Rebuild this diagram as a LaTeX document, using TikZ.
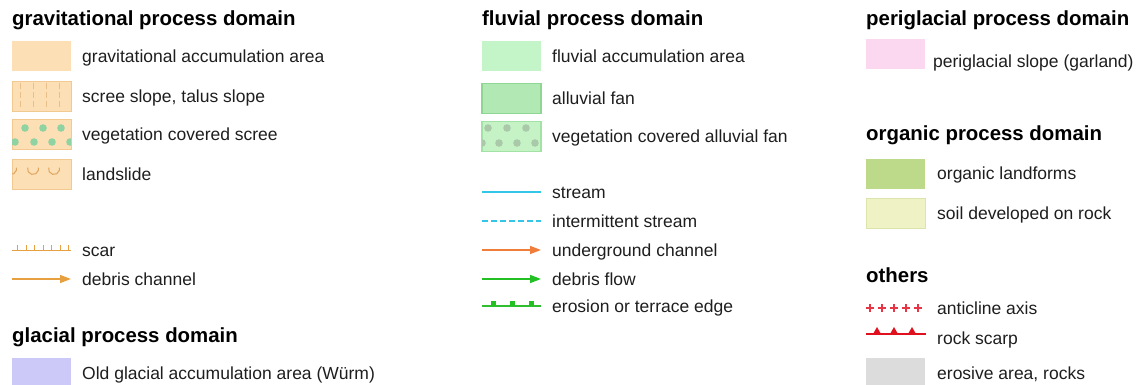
\documentclass[tikz,border=0pt]{standalone}
\usepackage{fontspec}
\setmainfont{Liberation Sans}
\usetikzlibrary{positioning, arrows.meta}

\definecolor{txtgray}{HTML}{1E1E1E}
\definecolor{gravfill}{HTML}{FCDFB4}
\definecolor{gravedge}{HTML}{F3C992}
\definecolor{gravline}{HTML}{E8BF88}
\definecolor{gravdot}{HTML}{8FD3A2}
\definecolor{slideline}{HTML}{DFA45E}
\definecolor{scarorange}{HTML}{E6A040}
\definecolor{glacfill}{HTML}{CCC8F8}
\definecolor{fluvfill}{HTML}{C4F5C8}
\definecolor{fanfill}{HTML}{B2E8B4}
\definecolor{fanedge}{HTML}{8ED792}
\definecolor{vegfanfill}{HTML}{C6F3C6}
\definecolor{vegfanedge}{HTML}{A2E2A4}
\definecolor{vegfandot}{HTML}{A9C9A9}
\definecolor{streamblue}{HTML}{34C6E6}
\definecolor{ugorange}{HTML}{F07E3A}
\definecolor{flowgreen}{HTML}{22C022}
\definecolor{edgegreen}{HTML}{2EBE2E}
\definecolor{perifill}{HTML}{FCD8F0}
\definecolor{orgfill}{HTML}{BDD98A}
\definecolor{soilfill}{HTML}{EEF2C4}
\definecolor{soiledge}{HTML}{DCE4AC}
\definecolor{axisred}{HTML}{E83444}
\definecolor{scarpred}{HTML}{E0101E}
\definecolor{rockgray}{HTML}{DCDCDC}

\begin{document}
\begin{tikzpicture}[x=1pt, y=-1pt,
		swatch/.style={minimum width=59pt, minimum height=30pt, inner sep=0pt, outer sep=0pt},
		lbl/.style={font=\fontsize{17.5}{20}\selectfont, text=txtgray, inner sep=0pt, text height=12pt, text depth=0pt},
		hdr/.style={font=\fontsize{20.4}{24}\selectfont\bfseries, text=black, anchor=base west, inner sep=0pt},
		sample/.style={line width=1.5pt}]
		\useasboundingbox (0,0) rectangle (1144,385);
		
		% --- Gravitational Column ---
		\node[hdr] (gravhdr) at (12,26) {gravitational process domain};
		
		\node[swatch, fill=gravfill] (gravacc) at (41.5,56.5) {};
		\node[lbl, right=11pt of gravacc] (gravacc-t) {gravitational accumulation area};
		
		% scree slope (broken vertical lines)
		\node[swatch, fill=gravfill, draw=gravedge, line width=1pt] (scree) at (41.5,96.5) {};
		\begin{scope}
			\clip (scree.south west) rectangle (scree.north east);
			\foreach \x in {20,33,46,59} \draw[gravline, line width=0.8pt, dash pattern=on 6pt off 3pt] (\x,83) -- (\x,110);
		\end{scope}
		\node[lbl, right=11pt of scree] (scree-t) {scree slope, talus slope};
		
		% vegetation covered scree (green dots)
		\node[swatch, fill=gravfill, draw=gravedge, line width=1pt] (vegscree) at (41.5,135) {};
		\begin{scope}
			\clip (vegscree.south west) rectangle (vegscree.north east);
			\foreach \x in {25,43,61} \fill[gravdot] (\x,128) circle (3.8pt);
			\foreach \x in {15,34,52,70} \fill[gravdot] (\x,142) circle (3.8pt);
		\end{scope}
		\node[lbl, right=11pt of vegscree] (vegscree-t) {vegetation covered scree};
		
		% landslide (small arcs)
		\node[swatch, fill=gravfill, draw=gravedge, line width=1pt] (landslide) at (41.5,174.5) {};
		\begin{scope}
			\clip (landslide.south west) rectangle (landslide.north east);
			\foreach \x in {11,33,54} \draw[slideline, line width=1pt] (\x,169) ++(165:5.5pt) arc[start angle=165, end angle=375, radius=5.5pt];
		\end{scope}
		\node[lbl, right=11pt of landslide] (landslide-t) {landslide};
		
		% scar
		\coordinate (scar-a) at (12,250);
		\coordinate (scar-b) at (71,250);
		\draw[scarorange, line width=1pt] (scar-a) -- (scar-b);
		\foreach \x in {17,26,34,43,51,60,68} \draw[scarorange, line width=0.9pt] (\x,250) -- (\x,245);
		\node[lbl, right=11pt of scar-b] (scar-t) {scar};
		
		% debris channel
		\coordinate (debch-a) at (12,279);
		\coordinate (debch-b) at (71,279);
		\draw[sample, scarorange, -{Triangle[length=11pt,width=8pt]}] (debch-a) -- (debch-b);
		\node[lbl, right=11pt of debch-b] (debch-t) {debris channel};
		
		% --- Glacial ---
		\node[hdr] (glachdr) at (12,342) {glacial process domain};
		\node[swatch, fill=glacfill] (glacold) at (41.5,373) {};
		\node[lbl, right=11pt of glacold] (glacold-t) {Old glacial accumulation area (Würm)};
		
		% --- Fluvial Column ---
		\node[hdr] (fluvhdr) at (482,26) {fluvial process domain};
		
		\node[swatch, fill=fluvfill] (fluvacc) at (511.5,56.5) {};
		\node[lbl, right=11pt of fluvacc] (fluvacc-t) {fluvial accumulation area};
		
		\node[swatch, fill=fanfill, draw=fanedge, line width=1.2pt] (alfan) at (511.5,98.5) {};
		\node[lbl, right=11pt of alfan] (alfan-t) {alluvial fan};
		
		\node[swatch, fill=vegfanfill, draw=vegfanedge, line width=1.2pt] (vegfan) at (511.5,136.5) {};
		\begin{scope}
			\clip (vegfan.south west) rectangle (vegfan.north east);
			\foreach \x in {488,507,526} \fill[vegfandot] (\x,128) circle (3.8pt);
			\foreach \x in {482,499,517,535} \fill[vegfandot] (\x,143) circle (3.8pt);
		\end{scope}
		\node[lbl, right=11pt of vegfan] (vegfan-t) {vegetation covered alluvial fan};
		
		% stream
		\coordinate (stream-a) at (482,192);
		\coordinate (stream-b) at (541,192);
		\draw[sample, streamblue] (stream-a) -- (stream-b);
		\node[lbl, right=11pt of stream-b] (stream-t) {stream};
		
		% intermittent stream
		\coordinate (intstream-a) at (482,221);
		\coordinate (intstream-b) at (541,221);
		\draw[sample, streamblue, dash pattern=on 6pt off 3pt] (intstream-a) -- (intstream-b);
		\node[lbl, right=11pt of intstream-b] (intstream-t) {intermittent stream};
		
		% underground channel
		\coordinate (ugch-a) at (482,250);
		\coordinate (ugch-b) at (541,250);
		\draw[sample, ugorange, -{Triangle[length=11pt,width=8pt]}] (ugch-a) -- (ugch-b);
		\node[lbl, right=11pt of ugch-b] (ugch-t) {underground channel};
		
		% debris flow
		\coordinate (debflow-a) at (482,279);
		\coordinate (debflow-b) at (541,279);
		\draw[sample, flowgreen, -{Triangle[length=11pt,width=8pt]}] (debflow-a) -- (debflow-b);
		\node[lbl, right=11pt of debflow-b] (debflow-t) {debris flow};
		
		% erosion or terrace edge
		\coordinate (terr-a) at (482,306);
		\coordinate (terr-b) at (541,306);
		\draw[edgegreen, line width=1.2pt] (terr-a) -- (terr-b);
		\foreach \x in {493,512,531} \fill[flowgreen] (\x-2.5,300.5) rectangle (\x+2.5,306);
		\node[lbl, right=11pt of terr-b] (terr-t) {erosion or terrace edge};
		
		% --- Periglacial / Organic / Others Column ---
		\node[hdr] (perihdr) at (866,26) {periglacial process domain};
		\node[swatch, fill=perifill] (perislope) at (895.5,54.5) {};
		\node[lbl, right=8pt of perislope, yshift=-7pt] (perislope-t) {periglacial slope (garland)};
		
		\node[hdr] (orghdr) at (866,141) {organic process domain};
		\node[swatch, fill=orgfill] (orgland) at (895.5,174) {};
		\node[lbl, right=12pt of orgland] (orgland-t) {organic landforms};
		
		\node[swatch, fill=soilfill, draw=soiledge, line width=1pt] (soilrock) at (895.5,213.5) {};
		\node[lbl, right=12pt of soilrock] (soilrock-t) {soil developed on rock};
		
		\node[hdr] (othhdr) at (866,282) {others};
		
		% anticline axis
		\coordinate (anti-a) at (866,308);
		\coordinate (anti-b) at (925,308);
		\foreach \x in {870,882,894,906,918} \draw[axisred, line width=1.3pt] (\x-3.8,308) -- (\x+3.8,308) (\x,304.2) -- (\x,311.8);
		\node[lbl, right=12pt of anti-b] (anti-t) {anticline axis};
		
		% rock scarp
		\coordinate (scarp-a) at (866,334);
		\coordinate (scarp-b) at (926,334);
		\draw[scarpred, line width=1.4pt] (scarp-a) -- (scarp-b);
		\foreach \x in {877,894,912} \fill[scarpred] (\x-4,334) -- (\x,327) -- (\x+4,334) -- cycle;
		\node[lbl, right=11pt of scarp-b, yshift=-4pt] (scarp-t) {rock scarp};
		
		\node[swatch, fill=rockgray] (erosive) at (895.5,373) {};
		\node[lbl, right=12pt of erosive] (erosive-t) {erosive area, rocks};
		
	\end{tikzpicture}
\end{document}
